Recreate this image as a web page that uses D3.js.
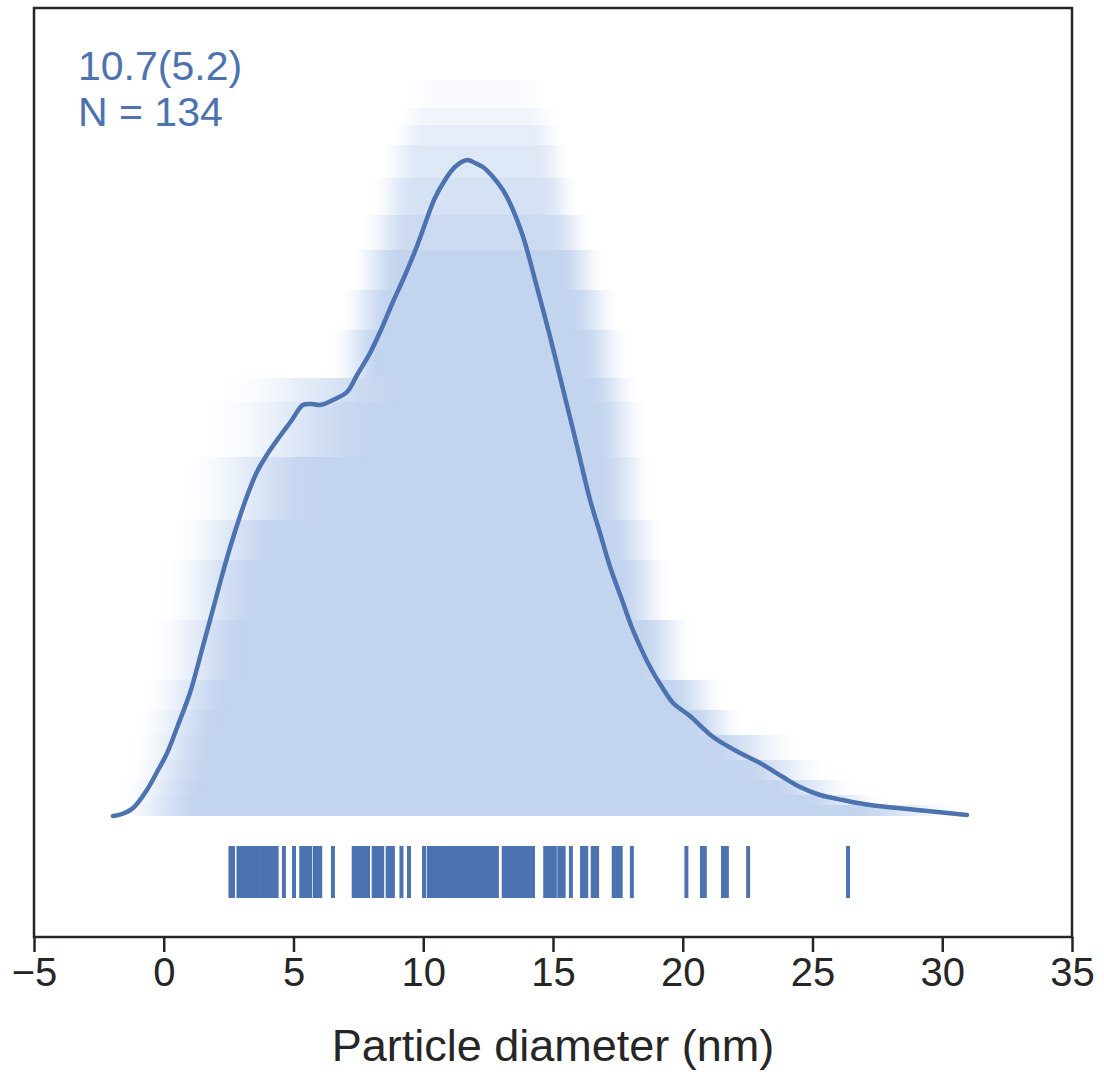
<!DOCTYPE html>
<html>
<head>
<meta charset="utf-8">
<script src="https://cdn.jsdelivr.net/npm/d3@7"></script>
<style>
  body { margin: 0; background: #fff; }
  svg text { font-family: "Liberation Sans", Arial, sans-serif; }
</style>
</head>
<body>
<svg width="1104" height="1076"></svg>
<script>
// density curve: diameter (nm) / density
const curveX = [-1.96, -1.61, -1.18, -0.65, -0.26, 0.13, 0.55, 1.01, 1.47, 1.90, 2.24, 2.55, 2.94, 3.21, 3.59,
  4.02, 4.48, 4.94, 5.36, 5.71, 6.02, 6.52, 7.06, 7.45, 7.95, 8.37, 8.83, 9.30, 9.76, 10.15, 10.45, 10.84,
  11.22, 11.69, 12.00, 12.30, 12.69, 13.07, 13.34, 13.85, 14.38, 14.89, 15.27, 15.85, 16.43, 16.81, 17.20,
  17.66, 18.08, 18.74, 19.20, 19.63, 20.28, 21.17, 22.21, 22.98, 23.86, 24.52, 25.29, 26.17, 27.22, 29.03, 30.95];
const curveY = [0, 0.0002, 0.0008, 0.0026, 0.0044, 0.0063, 0.0091, 0.0123, 0.0166, 0.0207, 0.0240, 0.0268,
  0.0300, 0.0320, 0.0344, 0.0363, 0.0380, 0.0396, 0.0411, 0.0412, 0.0411, 0.0416, 0.0424, 0.0441, 0.0463,
  0.0486, 0.0514, 0.0541, 0.0570, 0.0598, 0.0618, 0.0636, 0.0649, 0.0656, 0.0653, 0.0649, 0.0639, 0.0626,
  0.0613, 0.0579, 0.0529, 0.0479, 0.0439, 0.0378, 0.0316, 0.0283, 0.0249, 0.0216, 0.0186, 0.0149, 0.0129,
  0.0113, 0.0100, 0.0079, 0.0063, 0.0053, 0.0039, 0.0029, 0.0021, 0.0016, 0.0011, 0.0006, 0.0001];

// shaded bands: top level, fade start, solid start, solid end, fade end (nm), strength
const bandTop = [0.0736, 0.0708, 0.0691, 0.0671, 0.0638, 0.0601, 0.0566, 0.0526, 0.0486, 0.0438, 0.0414,
  0.0359, 0.0296, 0.0256, 0.0196, 0.0136, 0.0106, 0.0081, 0.0056, 0.0036, 0.0021, 0.0011];
const bandLo0 = [9.30, 8.91, 8.72, 8.33, 7.95, 7.56, 7.18, 6.79, 6.41, 1.98, 1.40, 0.63, 0.24, -0.14, -0.53,
  -0.92, -1.11, -1.30, -1.49, -1.69, -1.76, -1.88];
const bandLo1 = [10.65, 10.26, 10.07, 9.88, 9.68, 9.49, 9.10, 8.72, 8.33, 9.49, 8.33, 6.02, 4.48, 3.71, 3.13,
  2.55, 2.17, 1.98, 1.78, 1.59, 1.40, 1.40];
const bandHi1 = [13.54, 13.92, 14.12, 14.31, 14.50, 14.89, 15.27, 15.66, 16.04, 16.43, 16.62, 16.81, 17.20,
  17.58, 18.35, 19.51, 20.28, 21.05, 22.21, 23.37, 24.52, 26.45];
const bandHi0 = [14.89, 15.27, 15.46, 15.73, 16.04, 16.50, 17.00, 17.58, 17.97, 18.35, 18.66, 18.93, 19.32,
  19.59, 20.47, 21.63, 22.40, 24.52, 25.68, 26.83, 27.99, 30.88];
const bandAlpha = [0.12, 0.25, 0.4, 0.55, 0.7, 0.85, 1, 1, 1, 1, 1, 1, 1, 1, 1, 1, 1, 1, 1, 1, 1, 1];

// particle diameters (nm) for the rug
const rugValues = [2.57, 2.67, 2.88, 2.95, 3.05, 3.12, 3.21, 3.33, 3.40, 3.52, 3.58, 3.66, 3.79, 3.84, 3.95,
  4.03, 4.10, 4.22, 4.35, 4.63, 5.02, 5.30, 5.38, 5.47, 5.55, 5.64, 5.82, 5.88, 5.96, 6.03, 6.52,
  7.32, 7.41, 7.50, 7.58, 7.67, 7.77, 7.87, 8.09, 8.17, 8.26, 8.33, 8.42, 8.63, 8.70, 8.76, 8.83,
  9.16, 9.45, 10.03, 10.21, 10.27, 10.33, 10.40, 10.47, 10.55, 10.61, 10.68, 10.74, 10.82, 10.88, 10.95,
  11.02, 11.09, 11.15, 11.22, 11.30, 11.36, 11.43, 11.50, 11.56, 11.63, 11.70, 11.77, 11.83, 11.90, 11.97,
  12.04, 12.10, 12.17, 12.24, 12.31, 12.37, 12.44, 12.51, 12.58, 12.65, 12.73, 12.84,
  13.10, 13.17, 13.23, 13.30, 13.37, 13.43, 13.50, 13.56, 13.63, 13.70, 13.76, 13.83, 13.90, 13.96, 14.03,
  14.10, 14.16, 14.23, 14.70, 14.79, 14.88, 14.98, 15.07, 15.24, 15.33, 15.41, 15.69, 16.12, 16.20, 16.28,
  16.53, 16.61, 16.70, 17.34, 17.47, 17.61, 18.04, 20.14, 20.74, 20.85, 21.55, 21.63, 21.70, 22.52, 26.37];

const xTicks = [-5, 0, 5, 10, 15, 20, 25, 30, 35];
const statLines = ['10.7(5.2)', 'N = 134'];
const xTitle = 'Particle diameter (nm)';

const blue = '#4c72b0', shade = 'rgb(195,212,239)', ink = '#262626';

const svg = d3.select('svg');
const plotL = 34, plotR = 1072, plotT = 8, plotB = 937;

const x = d3.scaleLinear().domain([-5, 35]).range([plotL, plotR]);
const y = d3.scaleLinear().domain([0, 0.08]).range([816, 16]);

const defs = svg.append('defs');
const smooth = t => t * t * (3 - 2 * t);

// bands
const bands = bandTop.map((t, i) => ({
  top: t, next: i < bandTop.length - 1 ? bandTop[i + 1] : 0,
  lo0: bandLo0[i], lo1: bandLo1[i], hi1: bandHi1[i], hi0: bandHi0[i], a: bandAlpha[i]
}));

bands.forEach((b, i) => {
  const x0 = x(b.lo0), x1 = x(b.lo1), x2 = x(b.hi1), x3 = x(b.hi0), w = x3 - x0;
  const grad = defs.append('linearGradient')
    .attr('id', 'band' + i)
    .attr('gradientUnits', 'userSpaceOnUse')
    .attr('x1', x0).attr('x2', x3).attr('y1', 0).attr('y2', 0);
  const stops = [];
  for (let k = 0; k <= 10; k++) {
    const t = k / 10;
    stops.push([(x1 - x0) * t / w, b.a * smooth(t)]);
  }
  for (let k = 0; k <= 10; k++) {
    const t = k / 10;
    stops.push([(x2 - x0 + (x3 - x2) * t) / w, b.a * smooth(1 - t)]);
  }
  grad.selectAll('stop').data(stops).enter().append('stop')
    .attr('offset', d => Math.min(1, Math.max(0, d[0])))
    .attr('stop-color', shade)
    .attr('stop-opacity', d => d[1]);
});

svg.append('g').selectAll('rect').data(bands).enter().append('rect')
  .attr('x', d => x(d.lo0))
  .attr('width', d => x(d.hi0) - x(d.lo0))
  .attr('y', d => y(d.top))
  .attr('height', d => y(d.next) - y(d.top))
  .attr('fill', (d, i) => `url(#band${i})`);

// density line
const pts = curveX.map((v, i) => [v, curveY[i]]);
svg.append('path')
  .datum(pts)
  .attr('fill', 'none')
  .attr('stroke', blue)
  .attr('stroke-width', 4.5)
  .attr('stroke-linejoin', 'round')
  .attr('stroke-linecap', 'round')
  .attr('d', d3.line().x(d => x(d[0])).y(d => y(d[1])).curve(d3.curveCatmullRom));

// rug
svg.append('g').selectAll('line').data(rugValues).enter().append('line')
  .attr('x1', d => x(d)).attr('x2', d => x(d))
  .attr('y1', 846).attr('y2', 898)
  .attr('stroke', blue)
  .attr('stroke-width', 4);

// frame
svg.append('rect')
  .attr('x', plotL).attr('y', plotT)
  .attr('width', plotR - plotL).attr('height', plotB - plotT)
  .attr('fill', 'none').attr('stroke', ink).attr('stroke-width', 2.5);

// x axis
const ax = svg.append('g')
  .attr('transform', `translate(0,${plotB})`)
  .call(d3.axisBottom(x).tickValues(xTicks).tickSize(15).tickSizeOuter(0).tickPadding(6));
ax.select('.domain').remove();
ax.selectAll('.tick line').attr('stroke', ink).attr('stroke-width', 2.5);
ax.selectAll('.tick text').attr('fill', ink).style('font-size', '40px');

svg.append('text')
  .attr('x', (x(-5) + x(35)) / 2)
  .attr('y', 1061)
  .attr('text-anchor', 'middle')
  .attr('fill', ink)
  .style('font-size', '45px')
  .text(xTitle);

// stats label
svg.append('g').selectAll('text').data(statLines).enter().append('text')
  .attr('x', 78)
  .attr('y', (d, i) => 80 + i * 46)
  .attr('fill', blue)
  .style('font-size', '41px')
  .text(d => d);
</script>
</body>
</html>
